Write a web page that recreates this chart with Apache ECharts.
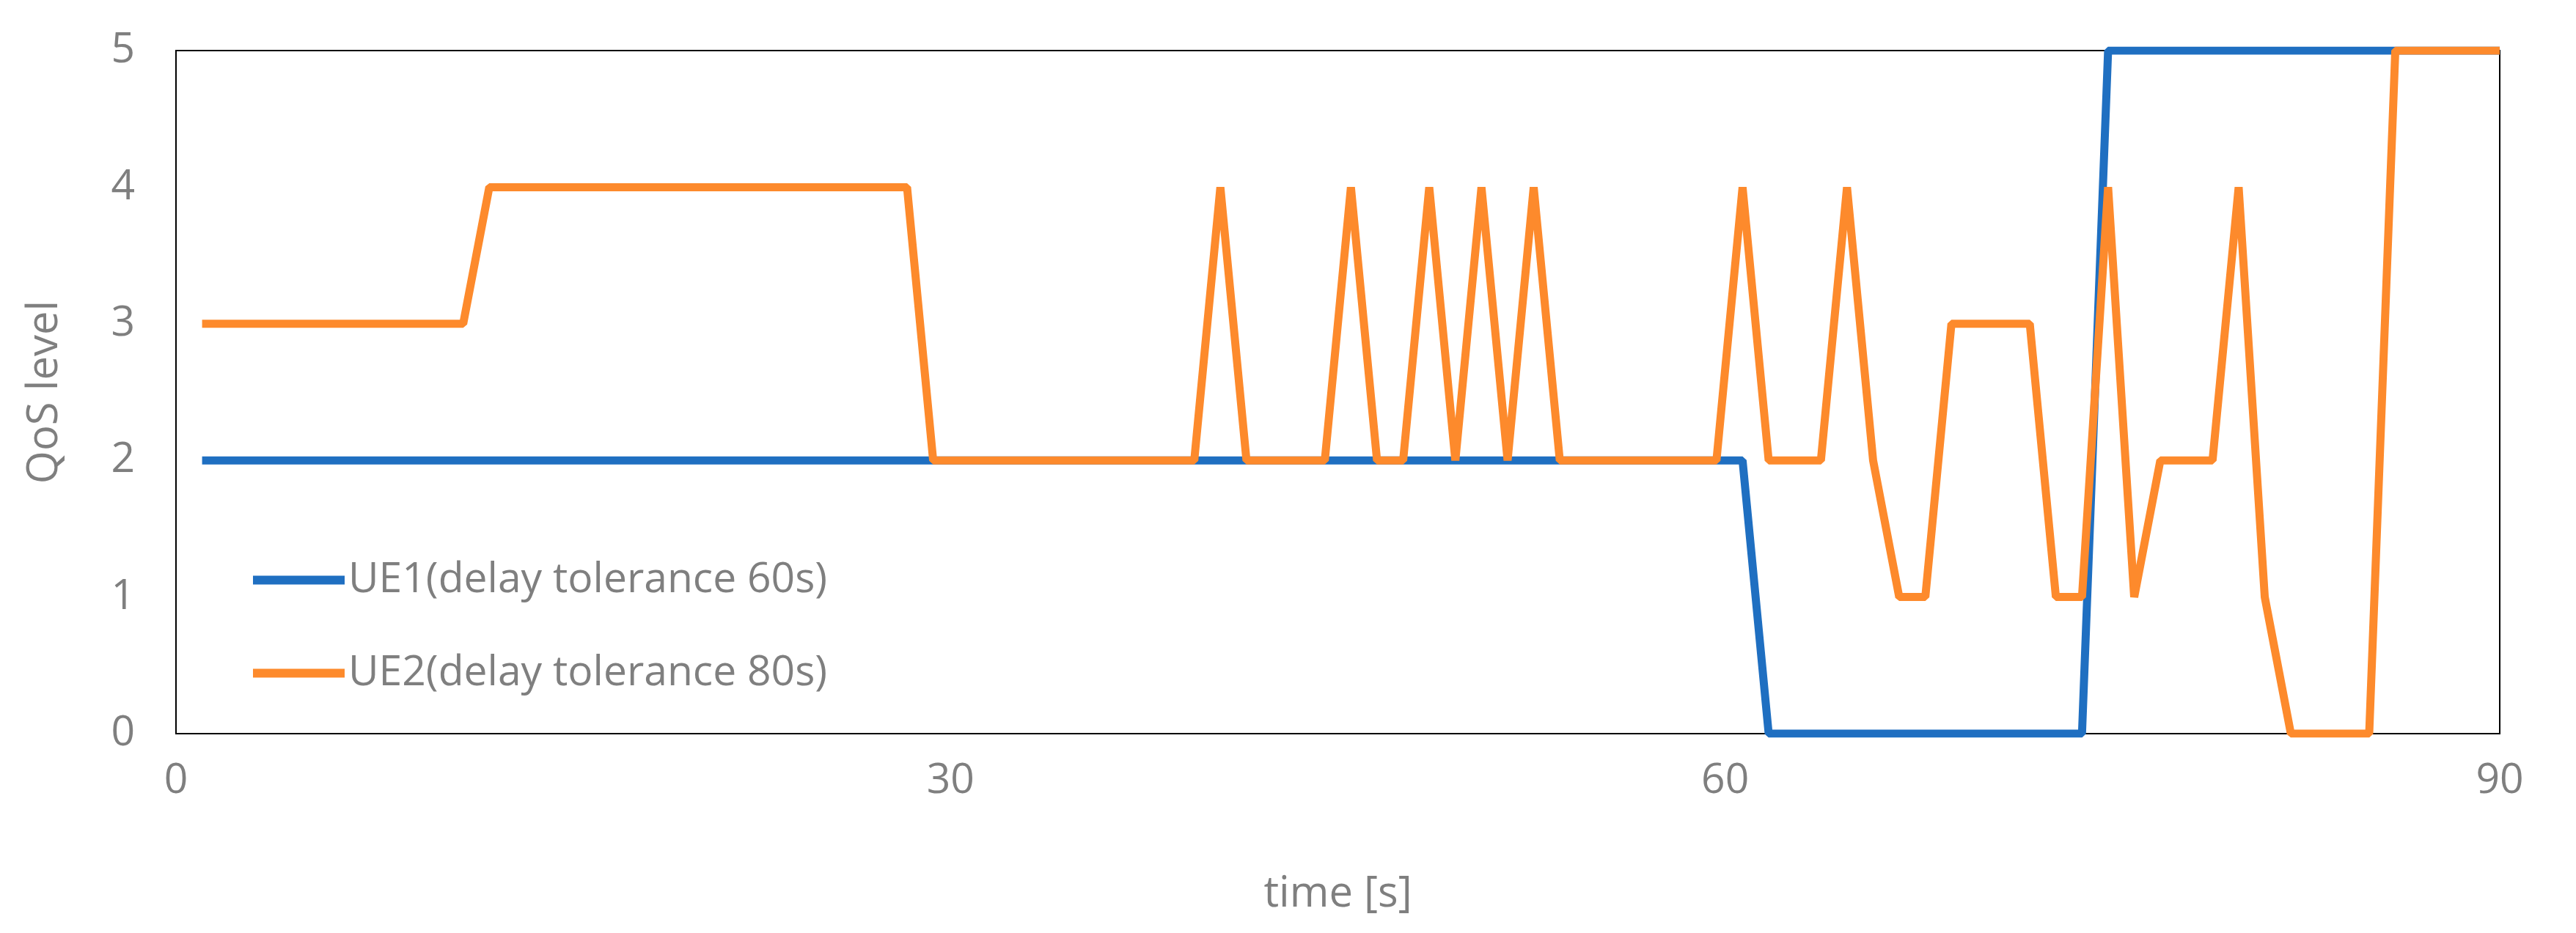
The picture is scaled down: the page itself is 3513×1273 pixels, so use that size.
<!DOCTYPE html>
<html><head><meta charset="utf-8">
<script src="https://cdn.jsdelivr.net/npm/echarts@6/dist/echarts.min.js"></script>
<style>html,body{margin:0;padding:0;background:#fff}#c{width:3513px;height:1273px}</style>
</head><body><div id="c"></div>
<script>
const times = Array.from({length:89},(_,i)=>i+1);
const ue1 = [2,2,2,2,2,2,2,2,2,2, 2,2,2,2,2,2,2,2,2,2, 2,2,2,2,2,2,2,2,2,2,
             2,2,2,2,2,2,2,2,2,2, 2,2,2,2,2,2,2,2,2,2, 2,2,2,2,2,2,2,2,2,2,
             0,0,0,0,0,0,0,0,0,0, 0,0,0,5,5,5,5,5,5,5, 5,5,5,5,5,5,5,5,5];
const ue2 = [3,3,3,3,3,3,3,3,3,3, 3,4,4,4,4,4,4,4,4,4, 4,4,4,4,4,4,4,4,2,2,
             2,2,2,2,2,2,2,2,2,4, 2,2,2,2,4,2,2,4,2,4, 2,4,2,2,2,2,2,2,2,4,
             2,2,2,4,2,1,1,3,3,3, 3,1,1,4,1,2,2,2,4,1, 0,0,0,0,5,5,5,5,5];
const xTicks = [0,30,60,90];
const names = ['UE1(delay tolerance 60s)','UE2(delay tolerance 80s)'];
const grey = '#7f7f7f';
const ff = 'Open Sans, Liberation Sans, sans-serif';
const chart = echarts.init(document.getElementById('c'));
chart.setOption({
  animation:false,
  grid:{left:240,right:104,top:69,bottom:272,show:true,borderColor:'#000',borderWidth:2},
  legend:{orient:'vertical',left:340,top:758,itemGap:70,itemWidth:125,itemHeight:12,
    icon:'rect',
    textStyle:{fontSize:57,color:grey,fontFamily:ff},
    data:names},
  xAxis:[{type:'value',min:0,max:90,interval:30,
    name:'time [s]',nameLocation:'middle',nameGap:190,
    nameTextStyle:{fontSize:58,color:grey,fontFamily:ff},
    axisLine:{show:false},axisTick:{show:false},splitLine:{show:false},
    axisLabel:{fontSize:57,color:grey,margin:36,fontFamily:ff,
      formatter:v=>xTicks.includes(v)?String(v):''}},
    {type:'value',min:0,max:89,show:false,position:'bottom'}],
  yAxis:{type:'value',min:0,max:5,interval:1,
    name:'QoS level',nameLocation:'middle',nameGap:150,
    nameTextStyle:{fontSize:58,color:grey,fontFamily:ff},
    axisLine:{show:false},axisTick:{show:false},splitLine:{show:false},
    axisLabel:{fontSize:57,color:grey,margin:56,fontFamily:ff}},
  series:[
    {name:names[0],type:'line',xAxisIndex:1,showSymbol:false,lineStyle:{width:11,color:'#1f6fc1'},itemStyle:{color:'#1f6fc1'},
     data:times.map((t,i)=>[t,ue1[i]])},
    {name:names[1],type:'line',xAxisIndex:1,showSymbol:false,lineStyle:{width:11,color:'#fd8a2c'},itemStyle:{color:'#fd8a2c'},
     data:times.map((t,i)=>[t,ue2[i]])}
  ]
});
</script></body></html>
